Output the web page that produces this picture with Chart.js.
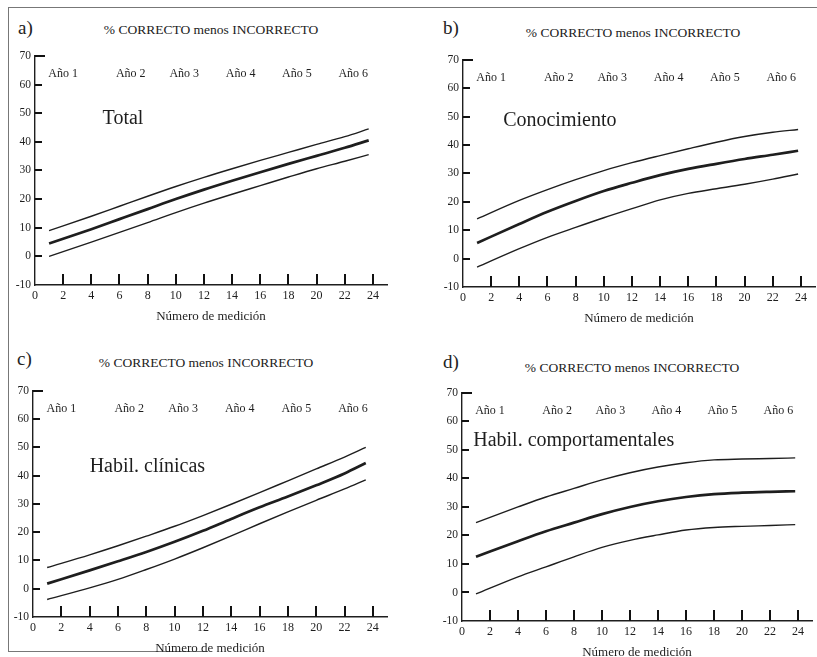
<!DOCTYPE html>
<html lang="es">
<head>
  <meta charset="UTF-8">
  <title>% CORRECTO menos INCORRECTO</title>
  <script src="https://cdn.jsdelivr.net/npm/chart.js"></script>
  <style>
    body {
      margin: 0;
      width: 817px;
      height: 657px;
      overflow: hidden;
      position: relative;
      background: #fff;
      color: #222;
      font-family: "Liberation Serif", "DejaVu Serif", serif;
    }
    canvas { position: absolute; }
    .lbl { position: absolute; white-space: nowrap; }
    .letter { font-size: 19px; line-height: 19px; }
    .title { font-size: 13.5px; line-height: 16px; transform: translateX(-50%); }
    .frame { position: absolute; background: #777; }
  </style>
</head>
<body>
  <div class="frame" style="left:8px; top:7px; width:809px; height:1px;"></div>
  <div class="frame" style="left:8px; top:7px; width:1px; height:645px;"></div>
  <div class="frame" style="left:8px; top:651px; width:200px; height:1px;"></div>

  <div class="lbl letter" style="left:18px; top:18px;">a)</div>
  <div class="lbl letter" style="left:443px; top:18px;">b)</div>
  <div class="lbl letter" style="left:17px; top:349px;">c)</div>
  <div class="lbl letter" style="left:443px; top:352px;">d)</div>

  <div class="lbl title" style="left:211px; top:22px;">% CORRECTO menos INCORRECTO</div>
  <div class="lbl title" style="left:633px; top:25px;">% CORRECTO menos INCORRECTO</div>
  <div class="lbl title" style="left:206px; top:355px;">% CORRECTO menos INCORRECTO</div>
  <div class="lbl title" style="left:632px; top:360px;">% CORRECTO menos INCORRECTO</div>

  <canvas id="chartA" width="386" height="280" style="left:5px; top:45px;"></canvas>
  <canvas id="chartB" width="384" height="278" style="left:433px; top:49px;"></canvas>
  <canvas id="chartC" width="388" height="277" style="left:3px; top:380px;"></canvas>
  <canvas id="chartD" width="384" height="279" style="left:432px; top:382px;"></canvas>

  <script>
    // ticks and year labels
    const xTicks = [0, 2, 4, 6, 8, 10, 12, 14, 16, 18, 20, 22, 24];
    const yTicks = [-10, 0, 10, 20, 30, 40, 50, 60, 70];
    const yearLabels = ["Año 1", "Año 2", "Año 3", "Año 4", "Año 5", "Año 6"];
    const yearAt = [2.0, 6.8, 10.6, 14.6, 18.6, 22.6];

    // a) Total
    const medA = [1, 4, 6, 8, 10, 12, 14, 16, 18, 20, 22, 23.7];
    const upperA = [9, 14, 17.5, 21, 24.4, 27.6, 30.6, 33.5, 36.3, 39.1, 41.8, 44.5];
    const meanA = [4.5, 9.5, 13, 16.5, 20, 23.3, 26.4, 29.4, 32.3, 35.1, 37.9, 40.5];
    const lowerA = [0, 5, 8.4, 11.8, 15.3, 18.6, 21.7, 24.7, 27.7, 30.6, 33.2, 35.5];

    // b) Conocimiento
    const medB = [1, 4, 6, 8, 10, 12, 14, 16, 18, 20, 22, 23.8];
    const upperB = [14, 20.5, 24.3, 27.8, 31, 33.8, 36.3, 38.7, 41, 43, 44.5, 45.5];
    const meanB = [5.5, 12.2, 16.5, 20.3, 23.8, 26.7, 29.4, 31.6, 33.4, 35.1, 36.6, 38];
    const lowerB = [-3, 3.5, 7.5, 11, 14.4, 17.6, 20.7, 23, 24.6, 26.2, 28, 29.8];

    // c) Habil. clinicas
    const medC = [1, 4, 6, 8, 10, 12, 14, 16, 18, 20, 22, 23.5];
    const upperC = [7.5, 12, 15.2, 18.6, 22.1, 25.9, 29.9, 34, 38.2, 42.4, 46.6, 50];
    const meanC = [1.8, 6.5, 9.7, 13, 16.6, 20.5, 24.7, 28.8, 32.6, 36.6, 40.8, 44.5];
    const lowerC = [-3.8, 0.3, 3.3, 6.8, 10.5, 14.5, 18.7, 23, 27.2, 31.3, 35.3, 38.5];

    // d) Habil. comportamentales
    const medD = [1, 4, 6, 8, 10, 12, 14, 16, 18, 20, 22, 23.8];
    const upperD = [24.5, 30, 33.5, 36.5, 39.5, 42, 44, 45.5, 46.5, 46.8, 47, 47.2];
    const meanD = [12.5, 18, 21.5, 24.5, 27.5, 30, 32, 33.5, 34.5, 35, 35.3, 35.5];
    const lowerD = [-0.5, 5.5, 9, 12.5, 15.8, 18.3, 20.2, 21.9, 22.8, 23.2, 23.5, 23.8];

    const ink = "#1e1e1e";
    const serif = "'Liberation Serif', 'DejaVu Serif', serif";

    function points(xs, ys) {
      return xs.map((x, i) => ({ x: x, y: ys[i] }));
    }

    // inside tick marks, year labels and panel name, placed with the chart's scales
    function panelPlugin(name, nameAt) {
      return {
        id: "panelText",
        afterDraw(chart) {
          const ctx = chart.ctx;
          const x = chart.scales.x, y = chart.scales.y;
          const area = chart.chartArea;
          ctx.save();
          ctx.fillStyle = "#111";
          xTicks.forEach(v => {
            if (v === 0) return;
            const px = Math.round(x.getPixelForValue(v));
            ctx.fillRect(px - 1, Math.round(area.bottom) - 11, 2, 11);
          });
          yTicks.forEach(v => {
            if (v === -10) return;
            const py = Math.round(y.getPixelForValue(v));
            ctx.fillRect(Math.round(area.left), py - 1, v === 70 ? 10 : 7, 2);
          });

          ctx.fillStyle = ink;
          ctx.textBaseline = "middle";
          ctx.textAlign = "center";
          ctx.font = "12px " + serif;
          yearLabels.forEach((t, i) => {
            ctx.fillText(t, x.getPixelForValue(yearAt[i]), y.getPixelForValue(63.8));
          });
          ctx.textAlign = "left";
          ctx.font = "20px " + serif;
          ctx.fillText(name, x.getPixelForValue(nameAt[0]), y.getPixelForValue(nameAt[1]));
          ctx.restore();
        }
      };
    }

    function makePanel(id, padRight, xs, upper, mean, lower, name, nameAt) {
      return new Chart(document.getElementById(id), {
        type: "line",
        data: {
          datasets: [
            { data: points(xs, upper), borderWidth: 1.4 },
            { data: points(xs, mean), borderWidth: 2.7 },
            { data: points(xs, lower), borderWidth: 1.4 }
          ]
        },
        options: {
          responsive: false,
          animation: false,
          layout: { padding: { top: 8, right: padRight, left: 0, bottom: 0 } },
          elements: {
            point: { radius: 0 },
            line: { borderColor: ink, cubicInterpolationMode: "monotone", fill: false }
          },
          plugins: { legend: { display: false }, tooltip: { enabled: false } },
          scales: {
            x: {
              type: "linear",
              min: 0,
              max: 25,
              afterBuildTicks: s => { s.ticks = xTicks.map(v => ({ value: v })); },
              afterFit: s => { s.height = 40; },
              grid: { display: false, drawTicks: false },
              border: { display: true, color: ink, width: 1.4 },
              ticks: { padding: 4, color: ink, font: { family: serif, size: 12 } },
              title: {
                display: true,
                text: "Número de medición",
                color: ink,
                font: { family: serif, size: 13 },
                padding: { top: 0, bottom: 1 }
              }
            },
            y: {
              min: -10,
              max: 70,
              afterBuildTicks: s => { s.ticks = yTicks.map(v => ({ value: v })); },
              afterFit: s => { s.width = 30; },
              grid: { display: false, drawTicks: false },
              border: { display: true, color: ink, width: 1.4 },
              ticks: { padding: 4, color: ink, font: { family: serif, size: 11.5 } }
            }
          }
        },
        plugins: [panelPlugin(name, nameAt)]
      });
    }

    makePanel("chartA", 4, medA, upperA, meanA, lowerA, "Total", [4.8, 48]);
    makePanel("chartB", 2, medB, upperB, meanB, lowerB, "Conocimiento", [2.85, 48.5]);
    makePanel("chartC", 4, medC, upperC, meanC, lowerC, "Habil. clínicas", [4.0, 43.2]);
    makePanel("chartD", 4, medD, upperD, meanD, lowerD, "Habil. comportamentales", [0.8, 53.3]);
  </script>
</body>
</html>
